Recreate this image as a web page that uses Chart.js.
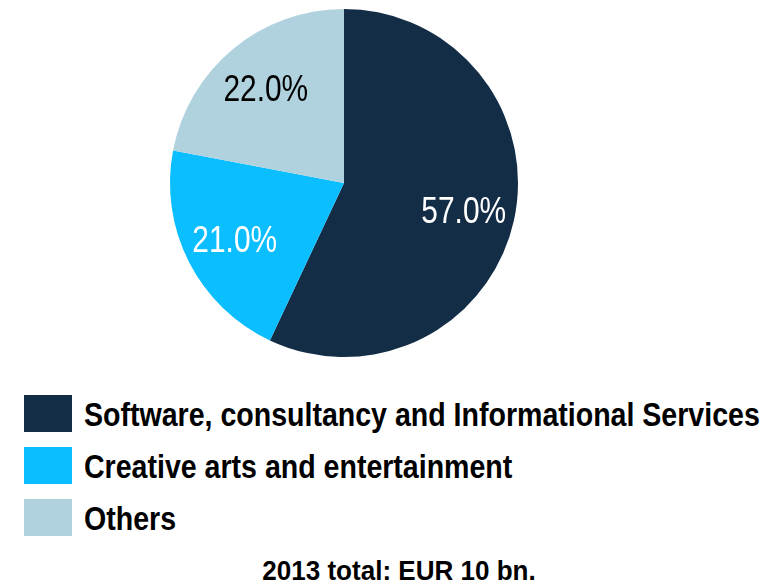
<!DOCTYPE html>
<html>
<head>
<meta charset="utf-8">
<script src="https://cdn.jsdelivr.net/npm/chart.js@4.4.1/dist/chart.umd.min.js"></script>
<style>
  html, body { margin: 0; padding: 0; background: #fff; }
  body { width: 773px; height: 585px; position: relative; overflow: hidden;
         font-family: "Liberation Sans", Arial, sans-serif; }
  #wrap { position: absolute; left: 0; top: 0; width: 773px; height: 370px; }
  #legend { position: absolute; left: 24px; top: 395px; }
  .item { position: relative; height: 52px; }
  .box { position: absolute; left: 0; top: 0; width: 48px; height: 37px; }
  /* narrow face is not installed, so squeeze the regular one */
  .lbl { position: absolute; left: 60px; top: -2px; font-size: 33px; font-weight: bold;
         color: #000; white-space: nowrap; line-height: 43px;
         transform: scaleX(0.865); transform-origin: 0 0; }
  #note { position: absolute; left: 0; width: 798px; top: 554px; text-align: center;
          font-size: 28px; font-weight: bold; color: #000; line-height: 34px;
          transform: scaleX(0.93); transform-origin: 399px 0; }
</style>
</head>
<body>
<div id="wrap"><canvas id="pie"></canvas></div>
<div id="legend"></div>
<div id="note">2013 total: EUR 10 bn.</div>
<script>
const categories = ["Software, consultancy and Informational Services", "Creative arts and entertainment", "Others"];
const shares = [57.0, 21.0, 22.0];
const colors = ["#142d46", "#0abeff", "#b0d2de"];
const labelColors = ["#ffffff", "#ffffff", "#000000"];

// percentage text inside each slice
const sliceLabels = {
  id: "sliceLabels",
  afterDatasetsDraw(chart) {
    const ctx = chart.ctx;
    const meta = chart.getDatasetMeta(0);
    meta.data.forEach((arc, i) => {
      const p = arc.getProps(["x", "y", "startAngle", "endAngle", "outerRadius"], true);
      const mid = (p.startAngle + p.endAngle) / 2;
      const r = p.outerRadius * 0.705;
      ctx.save();
      ctx.translate(p.x + Math.cos(mid) * r, p.y + Math.sin(mid) * r + 3);
      ctx.scale(0.83, 1);
      ctx.font = '36px "Liberation Sans", Arial, sans-serif';
      ctx.textAlign = "center";
      ctx.textBaseline = "middle";
      ctx.fillStyle = labelColors[i];
      ctx.fillText(shares[i].toFixed(1) + "%", 0, 0);
      ctx.restore();
    });
  }
};

new Chart(document.getElementById("pie"), {
  type: "pie",
  data: {
    labels: categories,
    datasets: [{
      data: shares,
      backgroundColor: colors,
      borderWidth: 0
    }]
  },
  options: {
    responsive: true,
    maintainAspectRatio: false,
    animation: false,
    layout: { padding: { top: 9, bottom: 13, left: 0, right: 85 } },
    plugins: { legend: { display: false }, tooltip: { enabled: false } }
  },
  plugins: [sliceLabels]
});

const legend = document.getElementById("legend");
categories.forEach((c, i) => {
  const item = document.createElement("div");
  item.className = "item";
  item.innerHTML = '<div class="box" style="background:' + colors[i] + '"></div><div class="lbl">' + c + '</div>';
  legend.appendChild(item);
});
</script>
</body>
</html>
